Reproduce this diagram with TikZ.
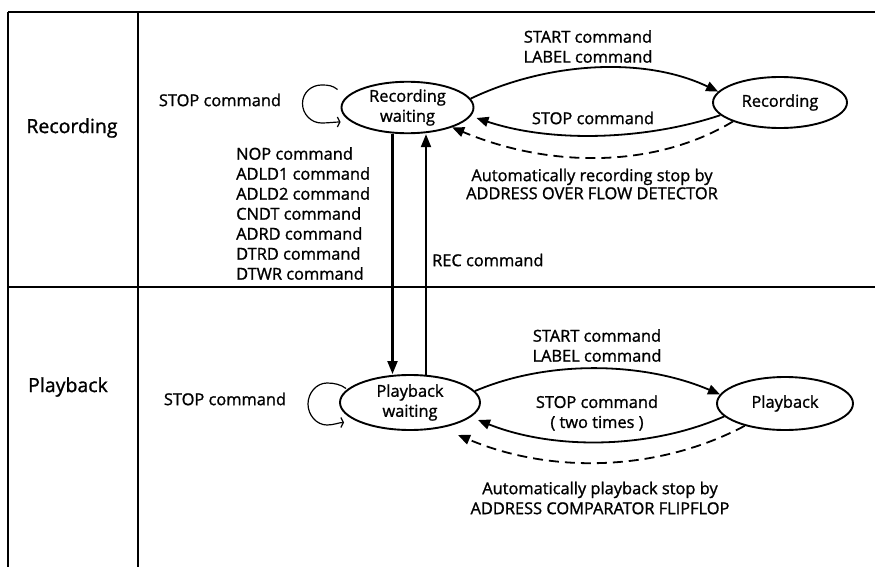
\documentclass[tikz,border=0pt]{standalone}
\usepackage{fontspec}
\setmainfont{Open Sans}[FakeBold=1.2]
\usetikzlibrary{arrows.meta,shapes.geometric,calc}
\begin{document}
\begin{tikzpicture}[x=1pt,y=-1pt,
  txt/.style={font=\fontsize{16.4}{20}\selectfont,inner sep=0pt},
  big/.style={font=\fontsize{19.5}{22}\selectfont,inner sep=0pt},
  st/.style={ellipse,draw,line width=1.9pt,inner sep=0pt,align=center,txt},
  frame/.style={line width=1.4pt},
  arr/.style={line width=1.8pt,-{Triangle[length=12pt,width=10pt]}},
  darr/.style={arr,dash pattern=on 10pt off 6pt},
  varr/.style={line width=2.1pt,-{Triangle[length=13pt,width=10pt]}},
  loopst/.style={line width=1.2pt,-{Straight Barb[length=2.5pt,width=10pt]}}]
\useasboundingbox (0,0) rectangle (875,567);
% frame
\coordinate (tl) at (8,12);
\coordinate (bl) at (8,567);
\coordinate (tr) at (875,12);
\coordinate (ct) at (138,12);
\coordinate (cb) at (138,567);
\coordinate (ml) at (8,287);
\coordinate (mr) at (875,287);
\draw[frame] (tr) -- (tl);
\draw[line width=2.2pt] (tl) -- (bl);
\draw[frame] (ct) -- (cb);
\draw[frame] (ml) -- (mr);
% lane labels
\node[big] (lR) at (72,128) {Recording};
\node[big] (lP) at (68,387) {Playback};
% states
\node[st,minimum width=132pt,minimum height=49pt] (RW) at (407.5,107.5) {Recording\\waiting};
\node[st,minimum width=134pt,minimum height=51pt] (R) at (780,102.5) {Recording};
\node[st,minimum width=140pt,minimum height=55pt] (PW) at (410,402.5) {Playback\\waiting};
\node[st,minimum width=136pt,minimum height=53pt] (P) at (785,403.5) {Playback};
% labels
\node[txt] (s1) at (220,100) {STOP command};
\node[txt] (s2) at (225,399) {STOP command};
\node[txt,anchor=west,align=left] (cmds) at (236,213.5) {NOP command\\ADLD1 command\\ADLD2 command\\CNDT command\\ADRD command\\DTRD command\\DTWR command};
\node[txt,anchor=west] (rec) at (432,260) {REC command};
\node[txt,align=center] (a1) at (588,46.5) {START command\\LABEL command};
\node[txt] (a2) at (593,118) {STOP command};
\node[txt,align=center,font=\fontsize{16.4}{18}\selectfont] (a3) at (592,184) {Automatically recording stop by\\ADDRESS OVER FLOW DETECTOR};
\node[txt,align=center] (b1) at (597,345.5) {START command\\LABEL command};
\node[txt,align=center] (b2) at (597,413) {STOP command\\( two times )};
\node[txt,align=center] (b3) at (600,498) {Automatically playback stop by\\ADDRESS COMPARATOR FLIPFLOP};
% recording transitions
\draw[arr] (RW.8) .. controls +(75,-36) and +(-75,-36) .. (R.170);
\draw[arr] (R.192) .. controls +(-75,25) and +(75,25) .. ($(RW)+(69,10.5)$);
\draw[darr] (R.202) .. controls +(-80,48) and +(95,40) .. (RW.-24);
% playback transitions
\draw[arr] (PW.10) .. controls +(75,-32) and +(-75,-32) .. (P.172);
\draw[arr] (P.192) .. controls +(-75,33) and +(75,30) .. ($(PW)+(68,17.5)$);
\draw[darr] (P.209) .. controls +(-85,45) and +(95,40) .. ($(PW)+(48,32.5)$);
% vertical transitions
\draw[varr] (RW.240) -- (RW.240 |- PW.north);
\draw[varr] (PW.60) -- (PW.60 |- RW.south);
% self loops
\draw[loopst] ($(RW)+(-70,-18)$) .. controls +(-5,-4) and +(7,0) .. ($(RW)+(-86,-22.5)$)
  .. controls +(-10.5,0) and +(0,-10.5) .. ($(RW)+(-105,-4)$)
  .. controls +(0,10.5) and +(-10.5,0) .. ($(RW)+(-86,15.5)$)
  .. controls +(7,0) and +(-5,0) .. ($(RW)+(-67,14.5)$);
\draw[loopst] ($(PW)+(-64,-14)$) .. controls +(-5,-4) and +(7,0) .. ($(PW)+(-83,-19.5)$)
  .. controls +(-10.5,0) and +(0,-11) .. ($(PW)+(-102,1.5)$)
  .. controls +(0,11) and +(-10.5,0) .. ($(PW)+(-83,22.5)$)
  .. controls +(7,0) and +(-5,0) .. ($(PW)+(-66,20)$);
\end{tikzpicture}
\end{document}
